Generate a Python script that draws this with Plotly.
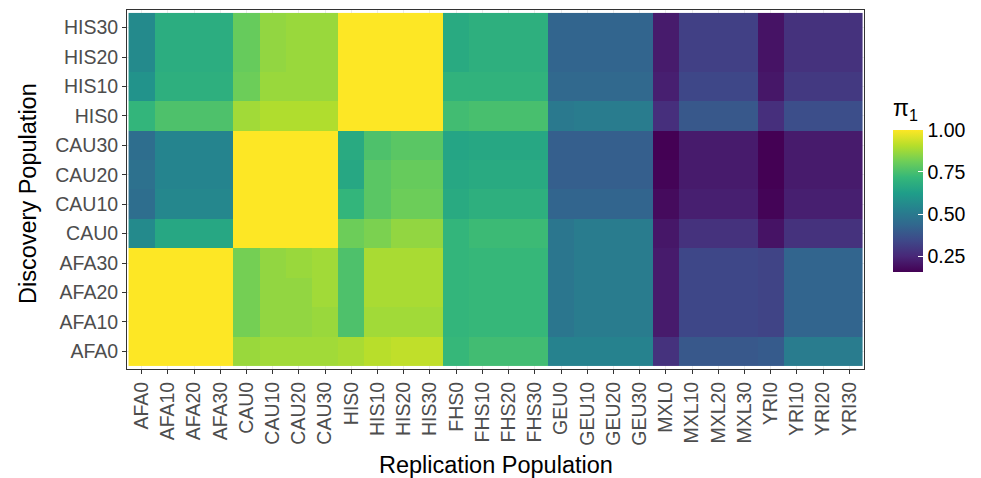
import plotly.graph_objects as go

replication = ["AFA0", "AFA10", "AFA20", "AFA30", "CAU0", "CAU10", "CAU20", "CAU30",
               "HIS0", "HIS10", "HIS20", "HIS30", "FHS0", "FHS10", "FHS20", "FHS30",
               "GEU0", "GEU10", "GEU20", "GEU30", "MXL0", "MXL10", "MXL20", "MXL30",
               "YRI0", "YRI10", "YRI20", "YRI30"]
discovery = ["AFA0", "AFA10", "AFA20", "AFA30", "CAU0", "CAU10", "CAU20", "CAU30",
             "HIS0", "HIS10", "HIS20", "HIS30"]

# pi1 values, one list per discovery population (columns follow `replication`)
pi1_AFA0 = [1.00, 1.00, 1.00, 1.00, 0.87, 0.88, 0.88, 0.88, 0.89, 0.91, 0.92, 0.92,
            0.72, 0.74, 0.74, 0.74, 0.53, 0.53, 0.53, 0.53, 0.28, 0.39, 0.39, 0.39,
            0.40, 0.51, 0.51, 0.51]
pi1_AFA10 = [1.00, 1.00, 1.00, 1.00, 0.82, 0.86, 0.86, 0.87, 0.76, 0.88, 0.88, 0.88,
             0.71, 0.72, 0.72, 0.72, 0.49, 0.51, 0.51, 0.51, 0.22, 0.34, 0.34, 0.34,
             0.33, 0.43, 0.43, 0.43]
pi1_AFA20 = [1.00, 1.00, 1.00, 1.00, 0.82, 0.86, 0.86, 0.88, 0.76, 0.89, 0.89, 0.89,
             0.71, 0.72, 0.72, 0.72, 0.49, 0.51, 0.51, 0.51, 0.22, 0.34, 0.34, 0.34,
             0.33, 0.43, 0.43, 0.43]
pi1_AFA30 = [1.00, 1.00, 1.00, 1.00, 0.82, 0.86, 0.87, 0.88, 0.76, 0.89, 0.89, 0.89,
             0.71, 0.72, 0.72, 0.72, 0.49, 0.51, 0.51, 0.51, 0.22, 0.34, 0.34, 0.34,
             0.33, 0.43, 0.43, 0.43]
pi1_CAU0 = [0.56, 0.66, 0.66, 0.66, 1.00, 1.00, 1.00, 1.00, 0.81, 0.83, 0.86, 0.86,
            0.71, 0.73, 0.73, 0.73, 0.49, 0.51, 0.51, 0.51, 0.21, 0.28, 0.28, 0.28,
            0.20, 0.28, 0.28, 0.28]
pi1_CAU10 = [0.46, 0.55, 0.55, 0.55, 1.00, 1.00, 1.00, 1.00, 0.71, 0.78, 0.81, 0.81,
             0.67, 0.69, 0.69, 0.69, 0.43, 0.43, 0.43, 0.43, 0.18, 0.23, 0.23, 0.23,
             0.165, 0.23, 0.23, 0.23]
pi1_CAU20 = [0.47, 0.54, 0.54, 0.54, 1.00, 1.00, 1.00, 1.00, 0.66, 0.78, 0.80, 0.80,
             0.66, 0.67, 0.67, 0.67, 0.41, 0.41, 0.41, 0.41, 0.165, 0.22, 0.22, 0.22,
             0.157, 0.22, 0.22, 0.22]
pi1_CAU30 = [0.46, 0.54, 0.54, 0.54, 1.00, 1.00, 1.00, 1.00, 0.67, 0.76, 0.78, 0.78,
             0.65, 0.66, 0.66, 0.66, 0.41, 0.41, 0.41, 0.41, 0.157, 0.22, 0.22, 0.22,
             0.157, 0.22, 0.22, 0.22]
pi1_HIS0 = [0.71, 0.76, 0.76, 0.76, 0.88, 0.90, 0.90, 0.90, 1.00, 1.00, 1.00, 1.00,
            0.74, 0.75, 0.75, 0.75, 0.50, 0.51, 0.51, 0.51, 0.27, 0.39, 0.39, 0.39,
            0.27, 0.36, 0.36, 0.36]
pi1_HIS10 = [0.59, 0.69, 0.69, 0.69, 0.81, 0.87, 0.87, 0.87, 1.00, 1.00, 1.00, 1.00,
             0.70, 0.70, 0.70, 0.70, 0.44, 0.44, 0.44, 0.44, 0.23, 0.34, 0.34, 0.34,
             0.21, 0.30, 0.30, 0.30]
pi1_HIS20 = [0.56, 0.68, 0.68, 0.68, 0.80, 0.86, 0.87, 0.87, 1.00, 1.00, 1.00, 1.00,
             0.67, 0.69, 0.69, 0.69, 0.43, 0.43, 0.43, 0.43, 0.22, 0.32, 0.32, 0.32,
             0.20, 0.28, 0.28, 0.28]
pi1_HIS30 = [0.56, 0.68, 0.68, 0.68, 0.80, 0.86, 0.87, 0.87, 1.00, 1.00, 1.00, 1.00,
             0.67, 0.69, 0.69, 0.69, 0.43, 0.43, 0.43, 0.43, 0.22, 0.32, 0.32, 0.32,
             0.20, 0.28, 0.28, 0.28]

z = [pi1_AFA0, pi1_AFA10, pi1_AFA20, pi1_AFA30, pi1_CAU0, pi1_CAU10, pi1_CAU20,
     pi1_CAU30, pi1_HIS0, pi1_HIS10, pi1_HIS20, pi1_HIS30]

colorbar_ticks = [0.25, 0.50, 0.75, 1.00]
ZMIN, ZMAX = 0.157, 1.0

FONT = "Liberation Sans, Arial, Helvetica, sans-serif"
W, H = 981, 478
L, R, T, B = 127, 117, 10, 109
plot_w = W - L - R
plot_h = H - T - B

fig = go.Figure(go.Heatmap(
    x=replication, y=discovery, z=z,
    colorscale="Viridis", zmin=ZMIN, zmax=ZMAX,
    xgap=0, ygap=0,
    colorbar=dict(
        title=dict(text="π<sub>1</sub>", side="top",
                   font=dict(size=23, color="black", family=FONT)),
        thickness=30, thicknessmode="pixels",
        len=176, lenmode="pixels",
        x=(893 - L) / plot_w, xanchor="left", xpad=0,
        y=(369 - 96) / plot_h, yanchor="top", ypad=0,
        tickvals=colorbar_ticks, ticktext=[f"{v:.2f}" for v in colorbar_ticks],
        ticks="inside", ticklen=5, tickcolor="white", tickwidth=1,
        tickfont=dict(size=19.5, color="black", family=FONT),
        outlinewidth=0,
    ),
))

axis_common = dict(
    showline=True, mirror=True, linecolor="#333333", linewidth=1,
    ticks="outside", ticklen=4, tickcolor="#333333", tickwidth=1,
    tickfont=dict(size=19.5, color="#4d4d4d", family=FONT),
    showgrid=True, gridcolor="#ebebeb", zeroline=False,
)

fig.update_layout(
    width=W, height=H,
    margin=dict(l=L, r=R, t=T, b=B),
    paper_bgcolor="white", plot_bgcolor="white",
    font=dict(family=FONT),
    xaxis=dict(**axis_common, type="category", tickangle=-90,
               categoryorder="array", categoryarray=replication,
               range=[-0.56, len(replication) - 0.44]),
    yaxis=dict(**axis_common, type="category",
               categoryorder="array", categoryarray=discovery,
               range=[-0.6, len(discovery) - 0.4]),
    annotations=[
        dict(text="Replication Population", xref="paper", yref="paper",
             x=0.5, y=-(465 - 369) / plot_h, xanchor="center", yanchor="middle",
             showarrow=False, font=dict(size=23.5, color="black", family=FONT)),
        dict(text="Discovery Population", xref="paper", yref="paper",
             x=-(127 - 28) / plot_w, y=(369 - 194) / plot_h, xanchor="center", yanchor="middle",
             textangle=-90, showarrow=False,
             font=dict(size=23.5, color="black", family=FONT)),
    ],
)

fig.write_html("out.html")
